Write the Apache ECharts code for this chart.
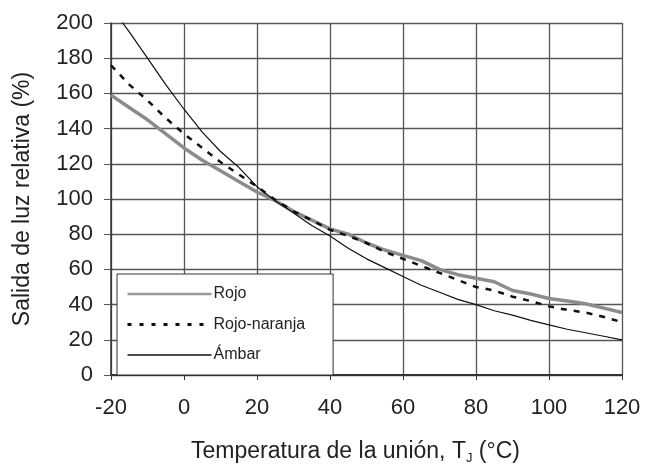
<!DOCTYPE html>
<html>
<head>
<meta charset="utf-8">
<script src="https://cdn.jsdelivr.net/npm/echarts@6/dist/echarts.min.js"></script>
<style>
  html, body { margin: 0; padding: 0; background: #fff; }
  #chart { width: 646px; height: 465px; }
</style>
</head>
<body>
<div id="chart"></div>
<script>
// temperatura de la unión (°C)
const temps = [-20, -15, -10, -5, 0, 5, 10, 15, 20, 25, 30, 35, 40, 45, 50, 55, 60, 65, 70, 75, 80, 85, 90, 95, 100, 105, 110, 115, 120];
// salida de luz relativa (%)
const rojo = [159, 152, 145, 137, 129, 122, 116, 110, 104, 99, 93, 88, 83, 80, 75, 71, 68, 65, 60, 57, 55, 53, 48, 46, 43.5, 42, 40.5, 38, 35.5];
const rojoNaranja = [176, 165, 156, 146, 137, 129, 121, 114, 107, 99.5, 93, 88, 82.5, 79, 75, 70, 66, 62, 58, 54, 50, 48, 44.5, 42, 39, 37, 35.5, 33, 30];
const ambar = [209, 195, 180, 165, 151, 138, 127, 118, 107, 99, 92, 85, 79, 72, 66, 61, 56, 51, 47, 43, 40, 36.5, 34, 31, 28.5, 26, 24, 22, 20];

const pairs = (vals) => temps.map((t, i) => [t, vals[i]]);

const font = "'Liberation Sans', Arial, sans-serif";
const chart = echarts.init(document.getElementById("chart"));

chart.setOption({
  backgroundColor: "#fff",
  animation: false,
  grid: { left: 111, right: 24, top: 23, bottom: 90, outerBoundsMode: "none", containLabel: false },
  legend: {
    orient: "vertical",
    left: 117,
    top: 274,
    padding: [12, 28, 12, 9],
    itemWidth: 84,
    itemHeight: 14,
    itemGap: 14.5,
    backgroundColor: "#fff",
    borderColor: "#333",
    borderWidth: 1,
    textStyle: { fontFamily: font, fontSize: 16, color: "#222", padding: [0, 0, 0, -3] },
    data: [
      { name: "Rojo", itemStyle: { opacity: 0 }, lineStyle: { color: "#999", width: 2.5 } },
      { name: "Rojo-naranja", itemStyle: { opacity: 0 }, lineStyle: { color: "#111", width: 3, type: [4, 8] } },
      { name: "Ámbar", itemStyle: { opacity: 0 }, lineStyle: { color: "#111", width: 1.3 } },
    ],
  },
  xAxis: {
    type: "value",
    min: -20,
    max: 120,
    interval: 20,
    name: "{a|Temperatura de la unión, T}{s|J}{a| (°C)}",
    nameLocation: "middle",
    nameGap: 64,
    nameTextStyle: {
      padding: [0, 22, 0, 0],
      rich: {
        a: { fontFamily: font, fontSize: 23, color: "#222" },
        s: { fontFamily: font, fontSize: 13, color: "#222", padding: [13, 0, 0, 0] },
      },
    },
    axisLine: { show: true, onZero: false, lineStyle: { color: "#333", width: 2 } },
    axisTick: { show: true, length: 5, inside: false, lineStyle: { color: "#333" } },
    axisLabel: { fontFamily: font, fontSize: 22, color: "#222", margin: 22 },
    splitLine: { show: true, lineStyle: { color: "#555", width: 1.3 } },
  },
  yAxis: {
    type: "value",
    min: 0,
    max: 200,
    interval: 20,
    name: "Salida de luz relativa (%)",
    nameLocation: "middle",
    nameRotate: 90,
    nameGap: 77,
    nameTextStyle: { fontFamily: font, fontSize: 23, color: "#222" },
    axisLine: { show: true, onZero: false, lineStyle: { color: "#333", width: 1.5 } },
    axisTick: { show: true, length: 7, lineStyle: { color: "#555" } },
    axisLabel: { fontFamily: font, fontSize: 22, color: "#222", margin: 18 },
    splitLine: { show: true, lineStyle: { color: "#555", width: 1.3 } },
  },
  series: [
    {
      name: "Rojo",
      type: "line",
      symbol: "none",
      lineStyle: { color: "#8c8c8c", width: 3.5 },
      itemStyle: { color: "#8c8c8c" },
      data: pairs(rojo),
    },
    {
      name: "Rojo-naranja",
      type: "line",
      symbol: "none",
      lineStyle: { color: "#111", width: 2.5, type: [6, 7] },
      itemStyle: { color: "#111" },
      data: pairs(rojoNaranja),
    },
    {
      name: "Ámbar",
      type: "line",
      symbol: "none",
      lineStyle: { color: "#111", width: 1.2 },
      itemStyle: { color: "#111" },
      data: pairs(ambar),
    },
  ],
});
</script>
</body>
</html>
